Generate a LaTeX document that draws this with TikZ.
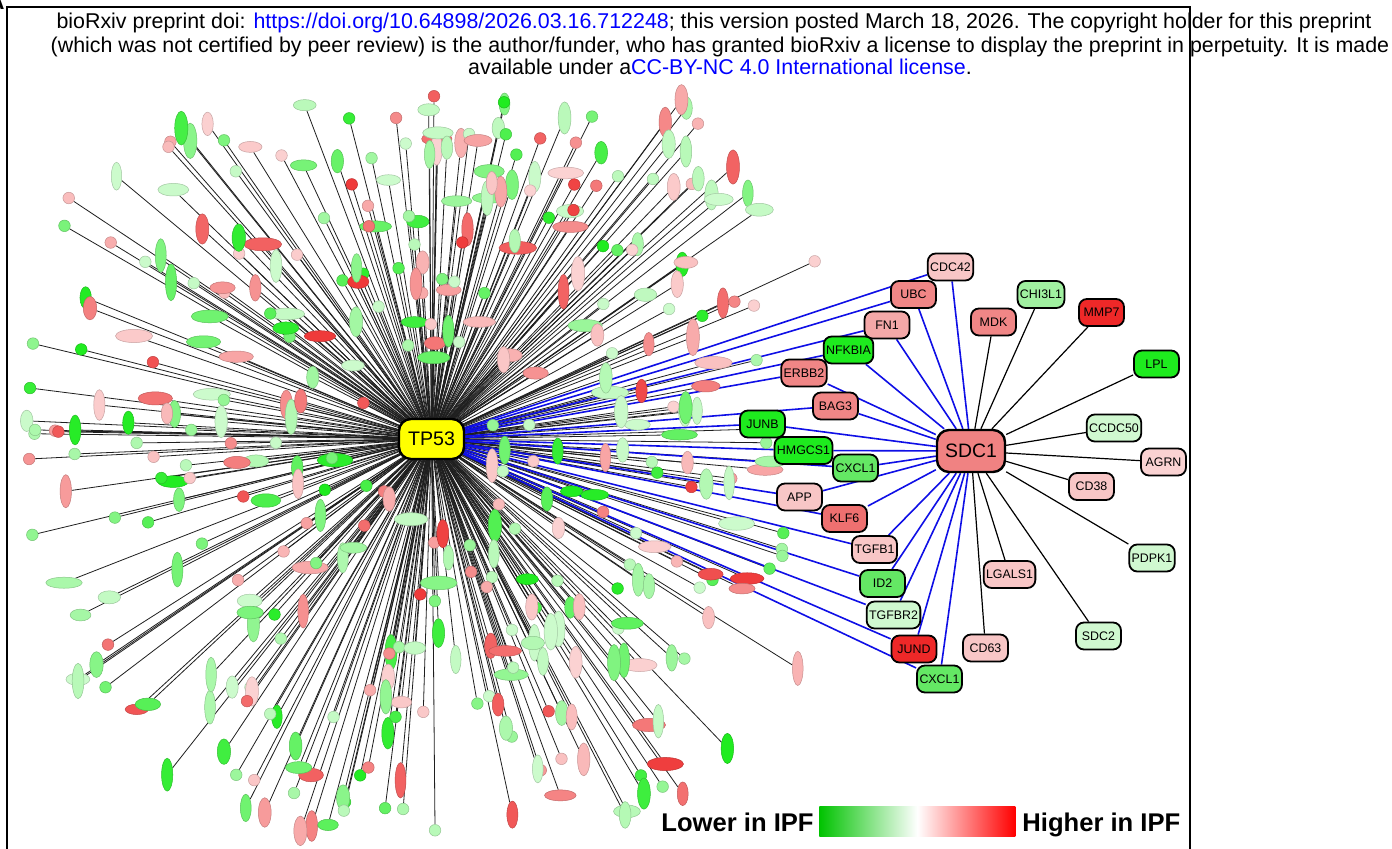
\documentclass[tikz,border=0pt]{standalone}
\usepackage{fontspec}
\setmainfont{Liberation Sans}
\usetikzlibrary{shapes.geometric}
\pgfdeclarelayer{bg}
\pgfdeclarelayer{edges}
\pgfdeclarelayer{front}
\pgfsetlayers{bg,edges,main,front}
\definecolor{lowc}{RGB}{25,235,25}
\definecolor{highc}{RGB}{238,50,50}
\definecolor{linkblue}{RGB}{0,0,255}
\definecolor{edgeblue}{RGB}{15,15,230}
\definecolor{legG}{RGB}{0,195,0}
\definecolor{legR}{RGB}{255,0,0}
\definecolor{hubY}{RGB}{255,255,0}
\definecolor{sdcC}{RGB}{240,130,130}
\definecolor{gPink}{RGB}{248,198,198}
\definecolor{gPale}{RGB}{250,210,210}
\definecolor{gRose}{RGB}{244,168,168}
\definecolor{gSalmon}{RGB}{240,134,134}
\definecolor{gSalmonB}{RGB}{238,112,112}
\definecolor{gRed}{RGB}{238,40,40}
\definecolor{gGreen}{RGB}{30,235,30}
\definecolor{gMid}{RGB}{100,232,100}
\definecolor{gLight}{RGB}{160,240,160}
\definecolor{gPaleG}{RGB}{208,248,208}
\pgfdeclarehorizontalshading{ipf}{100bp}{color(0bp)=(legG); color(25bp)=(legG); color(50bp)=(white); color(75bp)=(legR); color(100bp)=(legR)}
\tikzset{
  gene/.style={draw=black, line width=0.9pt, rounded corners=4pt, minimum width=22.5pt, minimum height=13.5pt, inner xsep=1.2pt, inner ysep=0pt, font=\fontsize{6.2}{6.5}\selectfont},
  hub/.style={draw=black, line width=1.2pt, rounded corners=6pt, inner sep=0pt, font=\fontsize{9.8}{10}\selectfont},
  sat/.style={ellipse, inner sep=0pt, line width=0.25pt},
  spoke/.style={draw=black!88, line width=0.4pt},
  blueedge/.style={draw=edgeblue, line width=0.8pt},
  sdcedge/.style={draw=black, line width=0.6pt},
  hdr/.style={font=\fontsize{10.7}{12}\selectfont, inner sep=0pt},
  legtext/.style={font=\bfseries\fontsize{12.8}{14}\selectfont, inner sep=0pt}
}
\begin{document}
\begin{tikzpicture}[x=0.5pt,y=-0.5pt]
\useasboundingbox (0,0) rectangle (1392,849);
\begin{pgfonlayer}{bg}
\fill[white] (0,0) rectangle (1392,849);
\end{pgfonlayer}
% hub nodes
\begin{pgfonlayer}{front}
\node[hub, fill=hubY, minimum width=32.5pt, minimum height=20pt] (tp53) at (431.5,439) {TP53};
\end{pgfonlayer}
% satellites
\pgfmathsetseed{2718}
\foreach \i in {1,...,400}{
  \pgfmathsetmacro{\ang}{360*rnd}
  \pgfmathsetmacro{\c}{cos(\ang)}
  \pgfmathsetmacro{\s}{sin(\ang)}
  \pgfmathsetmacro{\rt}{\s<-0.05 ? 346/max(abs(\s),0.05) : 1000}
  \pgfmathsetmacro{\rb}{\s>0.05 ? 398/max(abs(\s),0.05) : 1000}
  \pgfmathsetmacro{\rl}{\c<-0.05 ? 412/max(abs(\c),0.05) : 1000}
  \pgfmathsetmacro{\rr}{(\ang>=339 || \ang<=32) ? 360/max(\c,0.05) : 1000}
  \pgfmathsetmacro{\rmax}{min(440,\rt,\rb,\rl,\rr)}
  \pgfmathsetmacro{\q}{max(rnd,0.001)}
  \pgfmathsetmacro{\rz}{48+10*abs(\c)}
  \pgfmathsetmacro{\r}{\rz+(\rmax-\rz)*\q^0.6}
  \pgfmathsetmacro{\x}{431.5+\r*\c}
  \pgfmathsetmacro{\y}{439+\r*\s}
  \pgfmathsetmacro{\t}{rnd}
  \pgfmathsetmacro{\aa}{rnd}
  \pgfmathsetmacro{\bb}{rnd}
  \pgfmathsetmacro{\w}{\t<0.45 ? 5.8 : (\t<0.8 ? 5.2+1.6*\aa : 10+9*\aa)}
  \pgfmathsetmacro{\h}{\t<0.45 ? 5.8 : (\t<0.8 ? 10.5+8*\bb : 5.2+1.6*\bb)}
  \pgfmathsetmacro{\u}{rnd}
  \pgfmathsetmacro{\v}{max(rnd,0.001)}
  \pgfmathtruncatemacro{\p}{22+78*\v^1.5}
  \ifdim\u pt<0.62pt \def\cc{lowc}\else\def\cc{highc}\fi
  \node[sat, minimum width=\w pt, minimum height=\h pt, fill=\cc!\p!white, draw=\cc!\p!white!80!black] (s\i) at (\x,\y) {};
}
\begin{pgfonlayer}{edges}
  \foreach \i in {1,...,400}{\draw[spoke] (tp53.center) -- (s\i);}
\end{pgfonlayer}
% SDC1 and partners
\node[hub, fill=sdcC, minimum width=34pt, minimum height=21pt, font=\fontsize{9.7}{10}\selectfont] (sdc1) at (971,451) {SDC1};
\node[gene, fill=gPink] (cdc) at (950.5,267) {CDC42};
\node[gene, fill=gSalmon] (ubc) at (913.5,294.5) {UBC};
\node[gene, fill=gRose] (fn) at (887,325) {FN1};
\node[gene, fill=gGreen] (nfk) at (848.5,350) {NFKBIA};
\node[gene, fill=gSalmon] (erb) at (804,373) {ERBB2};
\node[gene, fill=gSalmon] (bag) at (835.5,406) {BAG3};
\node[gene, fill=gGreen] (junb) at (762.5,424) {JUNB};
\node[gene, fill=gGreen] (hmg) at (803.5,450.5) {HMGCS1};
\node[gene, fill=gMid] (cxa) at (855.5,468) {CXCL1};
\node[gene, fill=gPink] (app) at (799.5,497) {APP};
\node[gene, fill=gSalmonB] (klf) at (844.5,518.5) {KLF6};
\node[gene, fill=gPink] (tgb) at (874.5,549.5) {TGFB1};
\node[gene, fill=gMid] (id) at (882.5,583.5) {ID2};
\node[gene, fill=gPaleG] (tgr) at (893.5,615) {TGFBR2};
\node[gene, fill=gRed] (jund) at (914,649) {JUND};
\node[gene, fill=gMid] (cxb) at (939.5,679) {CXCL1};
\node[gene, fill=gSalmon] (mdk) at (993.5,322) {MDK};
\node[gene, fill=gLight] (chi) at (1041,294.5) {CHI3L1};
\node[gene, fill=gRed] (mmp) at (1101.5,312.5) {MMP7};
\node[gene, fill=gGreen] (lpl) at (1156.5,364) {LPL};
\node[gene, fill=gPaleG] (ccd) at (1114,428) {CCDC50};
\node[gene, fill=gPale] (agrn) at (1163.5,462) {AGRN};
\node[gene, fill=gPink] (cd38) at (1091.5,486.5) {CD38};
\node[gene, fill=gPaleG] (pdpk) at (1152,558) {PDPK1};
\node[gene, fill=gPaleG] (sdc2) at (1098.5,636) {SDC2};
\node[gene, fill=gPink] (lgals) at (1009.5,574.5) {LGALS1};
\node[gene, fill=gPink] (cd63) at (985.5,648) {CD63};
\begin{pgfonlayer}{edges}
  \foreach \n in {cdc,ubc,fn,nfk,erb,bag,junb,hmg,cxa,app,klf,tgb,id,tgr,jund,cxb}{
    \draw[blueedge] (tp53.center) -- (\n);
    \draw[blueedge] (sdc1) -- (\n);
  }
  \foreach \n in {mdk,chi,mmp,lpl,ccd,agrn,cd38,pdpk,sdc2,lgals,cd63}{
    \draw[sdcedge] (sdc1) -- (\n);
  }
\end{pgfonlayer}
% legend
\node[shade, shading=ipf, minimum width=98pt, minimum height=15pt, inner sep=0pt, anchor=west] (bar) at (819,821) {};
\node[legtext, anchor=base east] (lower) at (814,831) {Lower in IPF};
\node[legtext, anchor=base west] (higher) at (1022,831) {Higher in IPF};
% frame and header
\begin{pgfonlayer}{front}
\draw[line width=1pt] (7,849) -- (7,7) -- (1190,7) -- (1190,849);
\node[font=\bfseries\fontsize{11}{12}\selectfont, anchor=south east, inner sep=0pt] (lbl) at (5,10) {A};
\node[hdr, anchor=base] (h1) at (714,29) {bioRxiv preprint doi: \textcolor{linkblue}{https://doi.org/10.64898/2026.03.16.712248}; this version posted March 18, 2026. The copyright holder for this preprint};
\node[hdr, anchor=base] (h2) at (720,53) {(which was not certified by peer review) is the author/funder, who has granted bioRxiv a license to display the preprint in perpetuity. It is made};
\node[hdr, anchor=base] (h3) at (720,75) {available under a\textcolor{linkblue}{CC-BY-NC 4.0 International license}.};
\end{pgfonlayer}
\end{tikzpicture}
\end{document}
